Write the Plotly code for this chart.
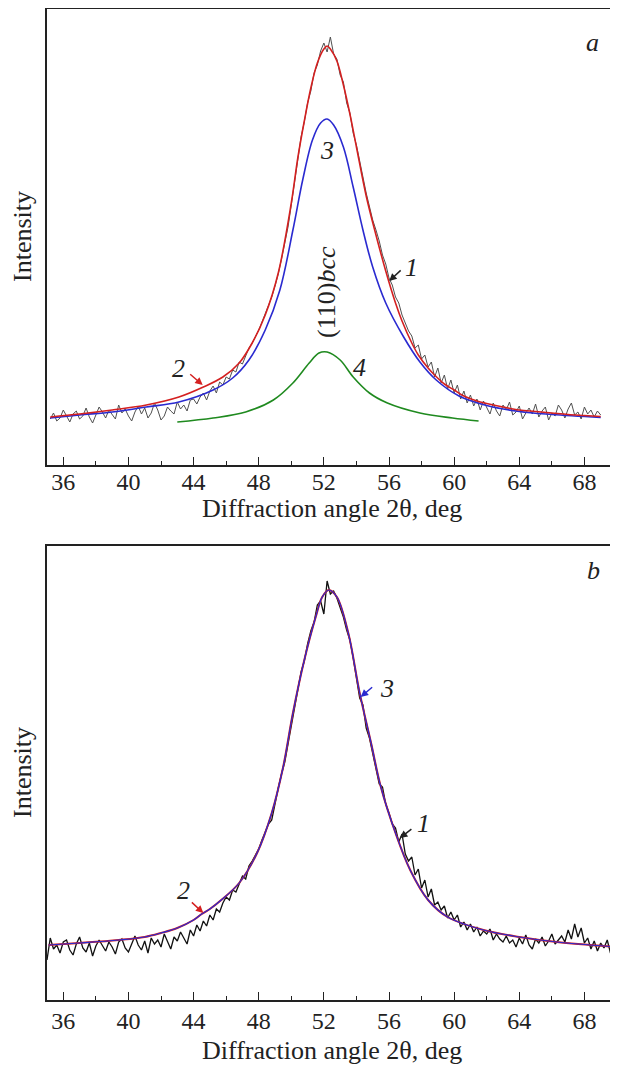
import numpy as np
import plotly.graph_objects as go

# ---- panel a ----
# measured pattern, step 0.2 deg from 35.2 to 69.0
a_angle = np.round(np.arange(35.2, 69.01, 0.2), 1)
a_meas = [44, 50, 42, 45, 53, 47, 41, 49, 52, 44, 47, 55, 46, 40, 49, 56, 51, 45, 53, 48,
          44, 58, 50, 54, 47, 42, 51, 57, 49, 55, 45, 50, 60, 53, 43, 47, 56, 52, 49, 61,
          54, 58, 52, 63, 64, 59, 66, 70, 63, 72, 77, 70, 81, 78, 86, 84, 93, 91, 101, 99,
          108, 115, 120, 126, 133, 141, 149, 157, 166, 177, 189, 204, 219, 236, 258, 280, 301, 326, 341, 360,
          372, 390, 398, 412, 420, 411, 426, 409, 404, 388, 381, 360, 350, 330, 318, 300, 286, 270, 256, 243,
          233, 222, 208, 199, 185, 178, 166, 160, 148, 140, 132, 127, 115, 118, 104, 108, 96, 101, 86, 95,
          80, 88, 74, 83, 70, 78, 64, 72, 60, 68, 57, 64, 53, 62, 55, 49, 60, 52, 47, 58,
          53, 61, 48, 51, 57, 44, 50, 55, 49, 59, 46, 52, 56, 43, 50, 47, 58, 53, 45, 54,
          60, 48, 51, 44, 56, 49, 53, 46, 52, 48]
assert len(a_meas) == len(a_angle)

# total fit (2)
a_fit_x = [35.2, 37.0, 39.0, 41.1, 43.1, 44.6, 45.8, 46.8, 47.6, 48.4, 49.2, 50.0, 50.4, 50.8, 51.2,
           51.6, 52.0, 52.2, 52.4, 52.8, 53.2, 53.6, 54.0, 54.6, 55.2, 55.8, 56.4, 56.8, 57.4, 57.8,
           58.4, 58.8, 59.4, 60.0, 60.6, 61.4, 62.0, 63.0, 64.0, 65.0, 66.0, 67.0, 68.0, 69.0]
a_fit_y = [46, 49, 53, 58, 66, 76, 86, 100, 120, 148, 190, 260, 305, 342, 375,
           400, 414, 417, 414, 402, 378, 349, 316, 267, 228, 192, 160, 142, 120, 108,
           95, 88, 79, 73, 67, 62, 59.5, 56, 53, 51.5, 50, 48.5, 47.5, 46.5]

# main (110) component (3)
a_c3_x = [35.2, 37.0, 39.0, 41.1, 43.1, 45.2, 46.4, 47.4, 48.4, 49.3, 50.1, 50.7, 51.3, 51.8, 52.2,
          52.6, 53.2, 53.8, 54.4, 55.0, 55.8, 56.9, 57.9, 58.9, 60.3, 62.0, 64.0, 66.0, 69.0]
a_c3_y = [45, 48, 51, 56, 61, 73, 85, 103, 133, 173, 233, 283, 323, 340, 344,
          338, 316, 276, 233, 196, 160, 126, 101, 83, 67, 57.5, 51.5, 48.5, 45.5]

# second component (4)
a_c4_x = [43.0, 45.2, 47.2, 48.9, 50.1, 51.1, 51.7, 52.2, 53.0, 53.8, 54.8, 55.9, 57.9, 59.9, 61.5]
a_c4_y = [41, 45, 51, 63, 80, 100, 110, 111, 103, 86, 70, 60, 50, 45, 42]

# ---- panel b ----
b_angle = np.round(np.arange(35.0, 70.01, 0.2), 1)
b_meas = [40, 62, 51, 55, 47, 58, 60, 50, 45, 56, 63, 52, 48, 57, 44, 54, 60, 55, 49, 58,
          53, 46, 58, 61, 52, 48, 57, 64, 55, 50, 59, 47, 62, 56, 60, 53, 66, 58, 51, 63,
          59, 68, 62, 56, 70, 64, 75, 69, 79, 74, 85, 80, 91, 88, 97, 103, 100, 110, 108, 117,
          124, 121, 134, 139, 145, 151, 160, 168, 176, 180, 197, 212, 226, 238, 256, 274, 293, 307, 328, 339,
          356, 369, 378, 395, 399, 386, 419, 406, 409, 402, 392, 383, 370, 360, 342, 323, 302, 295, 272, 262,
          247, 233, 216, 213, 196, 187, 176, 172, 158, 166, 146, 139, 143, 125, 131, 112, 120, 103, 111, 95,
          98, 90, 94, 82, 88, 80, 85, 73, 78, 70, 76, 68, 73, 64, 69, 66, 71, 60, 66, 61,
          58, 64, 57, 60, 53, 62, 56, 65, 55, 51, 61, 57, 63, 54, 59, 66, 56, 60, 64, 58,
          70, 61, 76, 63, 72, 57, 62, 51, 59, 49, 57, 52, 60, 47, 55, 50]
assert len(b_meas) == len(b_angle)

b_fit_x = [35.1, 37.0, 39.4, 41.0, 42.0, 43.0, 44.0, 44.5, 45.0, 45.7, 46.8, 47.9, 48.8, 49.5, 50.1,
           50.8, 51.5, 51.9, 52.3, 52.8, 53.5, 54.2, 54.9, 55.5, 56.4, 57.3, 58.4, 59.6, 61.8, 64.0,
           66.3, 70.0]
b_fit_y = [55, 57, 60, 63, 67, 72, 80, 86, 91, 100, 117, 147, 187, 233, 287,
           340, 383, 403, 410, 403, 367, 307, 257, 213, 167, 130, 100, 83, 70, 63,
           58, 53]

SERIF = "Liberation Serif"
RED = "#d42020"
BLUE = "#2a2ad0"
GREEN = "#1f8a1f"
INK = "#222222"

# the page body has an 8px margin, so the figure is sized to fit inside the window
W, H = 610, 1060
OFF = 8

fig = go.Figure()

# panel a
fig.add_trace(go.Scatter(x=a_angle, y=a_meas, mode="lines", line=dict(color="#505050", width=1),
                         xaxis="x", yaxis="y"))
fig.add_trace(go.Scatter(x=a_c4_x, y=a_c4_y, mode="lines", line=dict(color=GREEN, width=1.6, shape="spline"),
                         xaxis="x", yaxis="y"))
fig.add_trace(go.Scatter(x=a_c3_x, y=a_c3_y, mode="lines", line=dict(color=BLUE, width=1.6, shape="spline"),
                         xaxis="x", yaxis="y"))
fig.add_trace(go.Scatter(x=a_fit_x, y=a_fit_y, mode="lines", line=dict(color=RED, width=1.6, shape="spline"),
                         xaxis="x", yaxis="y"))

# panel b
fig.add_trace(go.Scatter(x=b_angle, y=b_meas, mode="lines", line=dict(color="#111111", width=1.3),
                         xaxis="x2", yaxis="y2"))
fig.add_trace(go.Scatter(x=b_fit_x, y=b_fit_y, mode="lines", line=dict(color=RED, width=2, shape="spline"),
                         xaxis="x2", yaxis="y2"))
fig.add_trace(go.Scatter(x=b_fit_x, y=b_fit_y, mode="lines", line=dict(color=BLUE, width=1.2, shape="spline"),
                         xaxis="x2", yaxis="y2"))


def px_x(p):
    return (p - OFF) / W


def px_y(p):
    return 1 - (p - OFF) / H


xax = dict(range=[35, 70], domain=[px_x(47), px_x(617)], showline=True, linecolor=INK, linewidth=1.5,
           mirror=True, ticks="inside", ticklen=8, tickwidth=1.2, tickcolor=INK,
           tick0=36, dtick=4, showgrid=False, zeroline=False,
           minor=dict(ticks="inside", ticklen=4, tickwidth=1.2, tickcolor=INK, dtick=2, showgrid=False),
           tickfont=dict(family=SERIF, size=24, color=INK), automargin=False)
yax = dict(showline=True, linecolor=INK, linewidth=1.5, mirror=True, ticks="",
           showticklabels=False, showgrid=False, zeroline=False, automargin=False)

fig.update_layout(
    width=W, height=H,
    margin=dict(l=0, r=0, t=0, b=0),
    paper_bgcolor="white", plot_bgcolor="white",
    showlegend=False,
    xaxis=dict(xax, anchor="y", ticklabelstandoff=-6),
    yaxis=dict(yax, range=[-2, 454], domain=[px_y(465), px_y(9)], anchor="x"),
    xaxis2=dict(xax, anchor="y2", ticklabelstandoff=-2),
    yaxis2=dict(yax, range=[0, 454], domain=[px_y(1000), px_y(546)], anchor="x2"),
)


def label(text, x, y, xref, yref, size=26, italic=True, **kw):
    t = f"<i>{text}</i>" if italic else text
    fig.add_annotation(text=t, x=x, y=y, xref=xref, yref=yref, showarrow=False,
                       xanchor="center", yanchor="middle",
                       font=dict(family=SERIF, size=size, color=INK), **kw)


def arrow(x, y, ax, ay, color, xref, yref):
    fig.add_annotation(text="", x=x, y=y, ax=ax, ay=ay, xref=xref, yref=yref, showarrow=True,
                       arrowhead=2, arrowsize=1, arrowwidth=1.5, arrowcolor=color)


# panel a labels
label("a", 68.52, 421, "x", "y")
label("3", 52.17, 313, "x", "y")
label("1", 57.39, 196, "x", "y")
arrow(56.01, 182, 13, -12, INK, "x", "y")
label("2", 43.06, 95, "x", "y")
arrow(44.56, 78, -14, -12, RED, "x", "y")
label("4", 54.21, 96, "x", "y")
label("(110)<i>bcc</i>", 52.13, 171, "x", "y", italic=False, textangle=-90)

# panel b labels
label("b", 68.58, 430, "x2", "y2")
label("3", 55.85, 312, "x2", "y2")
arrow(54.26, 303, 13, -11, BLUE, "x2", "y2")
label("1", 58.10, 177, "x2", "y2")
arrow(56.67, 162, 13, -10, INK, "x2", "y2")
label("2", 43.37, 110, "x2", "y2")
arrow(44.60, 87, -13, -12, RED, "x2", "y2")

# axis titles
for yc, xt in [(237, 509), (773, 1050)]:
    fig.add_annotation(text="Intensity", x=px_x(22), y=px_y(yc), xref="paper", yref="paper", showarrow=False,
                       xanchor="center", yanchor="middle", textangle=-90,
                       font=dict(family=SERIF, size=26, color=INK))
    fig.add_annotation(text="Diffraction angle 2θ, deg", x=px_x(332), y=px_y(xt), xref="paper", yref="paper",
                       showarrow=False, xanchor="center", yanchor="middle",
                       font=dict(family=SERIF, size=26, color=INK))

fig.write_html("out.html")
